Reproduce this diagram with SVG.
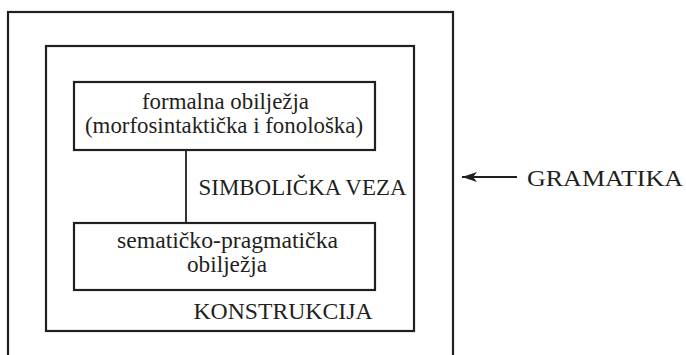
<svg xmlns="http://www.w3.org/2000/svg" width="686" height="355" viewBox="0 0 686 355">
<style>
.box{fill:none;stroke:#231f20;stroke-width:2.2}
.t{font-family:"Liberation Serif","Times New Roman",serif;fill:#231f20}
.c{text-anchor:middle;font-size:23px}
.lbl{font-size:23.5px}
.conn{stroke:#231f20;stroke-width:1.8;fill:none}
</style>
<defs>
<marker id="ah" markerWidth="16" markerHeight="10" refX="15" refY="5" orient="auto" markerUnits="userSpaceOnUse">
<path d="M0,0 L15,5 L0,10 L4,5 Z" fill="#231f20"/>
</marker>
</defs>
<g id="gramatika">
<rect class="box" x="8" y="12" width="445" height="370"/>
<text class="t lbl" x="527" y="186" style="font-size:24px" textLength="156" lengthAdjust="spacingAndGlyphs">GRAMATIKA</text>
</g>
<g id="konstrukcija">
<rect class="box" x="46" y="46" width="368" height="285"/>
<text class="t lbl" x="193.5" y="319" textLength="179" lengthAdjust="spacingAndGlyphs">KONSTRUKCIJA</text>
</g>
<g id="formalna">
<rect class="box" x="74" y="82" width="301" height="68"/>
<text class="t c" x="225.5" y="109" textLength="167" lengthAdjust="spacingAndGlyphs">formalna obilježja</text>
<text class="t c" x="224" y="133" textLength="278" lengthAdjust="spacingAndGlyphs">(morfosintaktička i fonološka)</text>
</g>
<g id="sematicko">
<rect class="box" x="74" y="223" width="301" height="67"/>
<text class="t c" x="227.5" y="248" textLength="221" lengthAdjust="spacingAndGlyphs">sematičko-pragmatička</text>
<text class="t c" x="227" y="272" textLength="80" lengthAdjust="spacingAndGlyphs">obilježja</text>
</g>
<g id="connectors">
<line class="conn" x1="186" y1="150" x2="186" y2="223"/>
<text class="t lbl" x="198.5" y="195" style="font-size:22.5px" textLength="208" lengthAdjust="spacingAndGlyphs">SIMBOLIČKA VEZA</text>
<line class="conn" x1="517" y1="177" x2="462" y2="177" marker-end="url(#ah)"/>
</g>
</svg>
